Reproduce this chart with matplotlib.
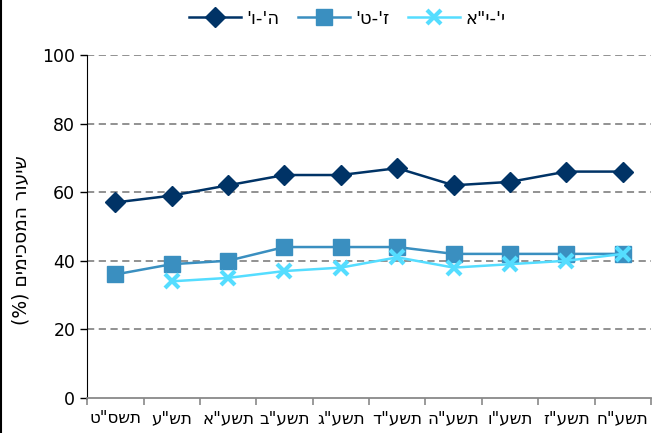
import matplotlib.pyplot as plt
import numpy as np

plt.rcParams['font.family'] = ['DejaVu Sans']

# school years (logical Hebrew order)
years = ['תשס"ט', 'תש"ע', 'תשע"א', 'תשע"ב', 'תשע"ג',
         'תשע"ד', 'תשע"ה', 'תשע"ו', 'תשע"ז', 'תשע"ח']

grades_5_6 = [57, 59, 62, 65, 65, 67, 62, 63, 66, 66]
grades_7_9 = [36, 39, 40, 44, 44, 44, 42, 42, 42, 42]
grades_10_11 = [np.nan, 34, 35, 37, 38, 41, 38, 39, 40, 42]

series_names = ["ה'-ו'", "ז'-ט'", 'י\'-י"א']
y_label = 'שיעור המסכימים (%)'


def visual(s):
    # matplotlib has no bidi support: flip to visual order, mirror brackets
    r = s[::-1]
    return r.translate(str.maketrans('()', ')('))


x = np.arange(len(years))

fig = plt.figure(figsize=(6.55, 4.33), dpi=100)
ax = fig.add_axes([0.133, 0.081, 0.861, 0.792])

ax.plot(x, grades_5_6, color='#003366', lw=1.8, marker='D', ms=10,
        label=visual(series_names[0]))
ax.plot(x, grades_7_9, color='#3A8FC0', lw=1.8, marker='s', ms=11,
        label=visual(series_names[1]))
ax.plot(x, grades_10_11, color='#55DDFF', lw=1.8, marker='x', ms=10, mew=3,
        label=visual(series_names[2]))

ax.set_ylim(0, 100)
ax.set_yticks(range(0, 101, 20))
ax.set_xlim(-0.5, len(years) - 0.5)
ax.set_xticks(x)
ax.set_xticklabels([visual(y) for y in years], fontsize=12)
ax.set_xticks(np.arange(-0.5, len(years)), minor=True)
ax.tick_params(axis='x', which='major', length=0, pad=8)
ax.tick_params(axis='x', which='minor', length=5, color='#898989', width=1.2)
ax.tick_params(axis='y', length=5, width=1, labelsize=12.5)

for v in range(20, 101, 20):
    ax.axhline(v, color='#898989', ls=(0, (4, 2.5)), lw=1.3, zorder=0)

ax.spines['top'].set_visible(False)
ax.spines['right'].set_visible(False)
ax.spines['left'].set_color('black')
ax.spines['bottom'].set_color('#898989')
ax.spines['bottom'].set_linewidth(1.3)

ax.set_ylabel(visual(y_label), fontsize=13.5)
ax.yaxis.set_label_coords(-0.1, 0.46)

fig.legend(loc='upper center', bbox_to_anchor=(0.53, 1.015), ncol=3,
           frameon=False, fontsize=13, handlelength=2.9, columnspacing=1.0,
           handletextpad=0.3)

fig.add_artist(plt.Line2D([0.002, 0.002], [0, 1], color='black', lw=1.5,
                          transform=fig.transFigure))

fig.savefig('out.png', dpi=100)
